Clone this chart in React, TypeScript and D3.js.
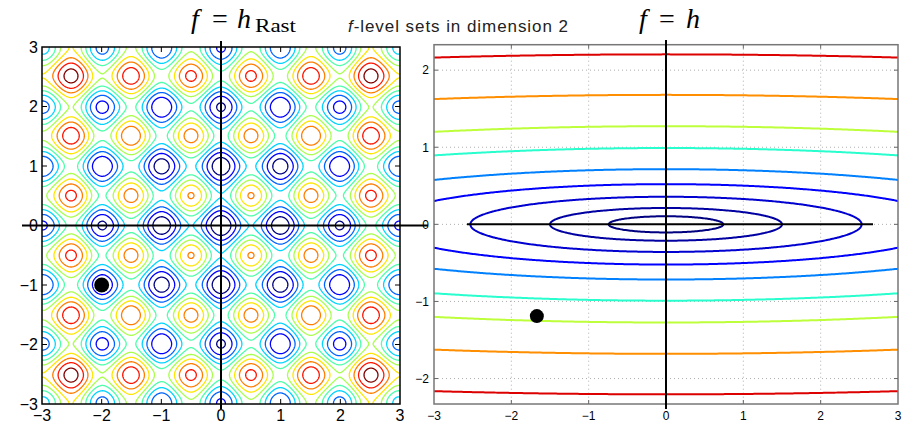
import React, { useMemo } from 'react';
import * as d3 from 'd3';

// ---------- data ----------
const rastLevels = [5, 10, 15, 20, 25, 30, 35, 40, 45, 50];
const rastTicks = [-3, -2, -1, 0, 1, 2, 3];
const rastPoint = [-2, -1];

const ellLevels = [0.55, 2.25, 6.4, 13.6, 25.6, 49, 81, 141, 243];
const ellColorPos = [0, 0.03, 0.07, 0.12, 0.25, 0.4, 0.58, 0.76, 0.92];
const ellXTicks = [-3, -2, -1, 0, 1, 2, 3];
const ellYTicks = [-2, -1, 0, 1, 2];
const ellPoint = [-1.67, -1.19];
const ellCond = 50;

// ---------- colormap (jet) ----------
const jetR = d3.scaleLinear().domain([0, 0.35, 0.66, 0.89, 1]).range([0, 0, 1, 1, 0.5]).clamp(true);
const jetG = d3.scaleLinear().domain([0, 0.125, 0.375, 0.64, 0.91, 1]).range([0, 0, 1, 1, 0, 0]).clamp(true);
const jetB = d3.scaleLinear().domain([0, 0.11, 0.34, 0.65, 1]).range([0.5, 1, 1, 0, 0]).clamp(true);
const jet = (t: number) => d3.rgb(jetR(t) * 255, jetG(t) * 255, jetB(t) * 255).formatHex();

// ---------- scales ----------
const lx = d3.scaleLinear().domain([-3, 3]).range([42, 400]);
const ly = d3.scaleLinear().domain([-3, 3]).range([404, 47]);
const rx = d3.scaleLinear().domain([-3, 3]).range([434, 898]);
const ry = d3.scaleLinear().domain([-2.33, 2.33]).range([404, 44.7]);

const rast = (x: number, y: number) =>
  20 + x * x - 10 * Math.cos(2 * Math.PI * x) + y * y - 10 * Math.cos(2 * Math.PI * y);
const ell = (x: number, y: number) => x * x + ellCond * y * y;

function ringBig(ring: number[][], minExt: number) {
  let x0 = Infinity, x1 = -Infinity, y0 = Infinity, y1 = -Infinity;
  for (const [x, y] of ring) {
    if (x < x0) x0 = x;
    if (x > x1) x1 = x;
    if (y < y0) y0 = y;
    if (y > y1) y1 = y;
  }
  return x1 - x0 >= minExt || y1 - y0 >= minExt;
}

function buildContours(f: any, x0: number, x1: number, y0: number, y1: number, sx: number, sy: number, thresholds: number[], xs: any, ys: any, minExt: number) {
  const nx = Math.round((x1 - x0) / sx) + 1;
  const ny = Math.round((y1 - y0) / sy) + 1;
  const values = new Float64Array(nx * ny);
  for (let j = 0; j < ny; j++) {
    const y = y0 + j * sy;
    for (let i = 0; i < nx; i++) values[j * nx + i] = f(x0 + i * sx, y);
  }
  const gen = d3.contours().size([nx, ny]).thresholds(thresholds);
  const polys = gen(values as any);
  const proj = d3.geoTransform({
    point(px: number, py: number) {
      (this as any).stream.point(xs(x0 + (px - 0.5) * sx), ys(y0 + (py - 0.5) * sy));
    },
  });
  const path = d3.geoPath(proj as any);
  return polys.map((p: any, k: number) => {
    const coords = p.coordinates
      .filter((poly: number[][][]) => ringBig(poly[0], minExt))
      .map((poly: number[][][]) => [poly[0], ...poly.slice(1).filter((r) => ringBig(r, minExt))]);
    return { value: p.value, k, d: path({ type: 'MultiPolygon', coordinates: coords } as any) || '' };
  });
}

const sans = 'Liberation Sans, Arial, Helvetica, sans-serif';
const serif = 'Liberation Serif, DejaVu Serif, serif';
const fmt = (t: number) => (t < 0 ? '\u2212' + Math.abs(t) : String(t));

export default function App() {
  const left = useMemo(
    () => buildContours(rast, -3.3, 3.3, -3.3, 3.3, 0.012, 0.012, rastLevels, lx, ly, 3),
    []
  );
  const right = useMemo(
    () => buildContours(ell, -3.5, 3.5, -2.6, 2.6, 0.02, 0.006, ellLevels, rx, ry, 2),
    []
  );
  const rastColor = d3.scaleLinear().domain([rastLevels[0], rastLevels[rastLevels.length - 1]]).range([0, 1]);

  const innerL = rastTicks.slice(1, -1);
  const innerRX = ellXTicks.slice(1, -1);

  return (
    <svg width={913} height={425} style={{ position: 'absolute', left: 0, top: 0, background: '#fff' }}>
      <defs>
        <clipPath id="clipL">
          <rect x={lx(-3)} y={ly(3)} width={lx(3) - lx(-3)} height={ly(-3) - ly(3)} />
        </clipPath>
        <clipPath id="clipR">
          <rect x={rx(-3)} y={ry(2.33)} width={rx(3) - rx(-3)} height={ry(-2.33) - ry(2.33)} />
        </clipPath>
      </defs>
      <rect x={0} y={0} width={913} height={425} fill="#fff" />

      {/* titles */}
      <text x={191} y={28} fontFamily={serif} fontStyle="italic" fontSize={28}>f</text>
      <text x={220} y={28} fontFamily={serif} fontSize={28} textAnchor="middle">=</text>
      <text x={237} y={28} fontFamily={serif} fontStyle="italic" fontSize={28}>h</text>
      <text x={255} y={32} fontFamily={serif} fontSize={19} textLength={41} lengthAdjust="spacingAndGlyphs">Rast</text>

      <text x={348} y={32} fontFamily={sans} fontSize={17} textLength={220} lengthAdjust="spacing" fill="#222">
        <tspan fontStyle="italic">f</tspan>-level sets in dimension 2
      </text>

      <text x={639} y={28} fontFamily={serif} fontStyle="italic" fontSize={28}>f</text>
      <text x={667} y={28} fontFamily={serif} fontSize={28} textAnchor="middle">=</text>
      <text x={686} y={28} fontFamily={serif} fontStyle="italic" fontSize={28}>h</text>

      {/* ---------- left panel ---------- */}
      <g clipPath="url(#clipL)">
        {left.map((c) => (
          <path key={c.k} d={c.d} fill="none" stroke={jet(rastColor(c.value))} strokeWidth={1.3} />
        ))}
      </g>
      <rect x={lx(-3)} y={ly(3)} width={lx(3) - lx(-3)} height={ly(-3) - ly(3)} fill="none" stroke="#000" strokeWidth={1.5} />
      {innerL.map((t) => (
        <g key={'lt' + t} stroke="#000" strokeWidth={1}>
          <line x1={lx(t)} x2={lx(t)} y1={ly(3)} y2={ly(3) + 5} />
          <line x1={lx(t)} x2={lx(t)} y1={ly(-3)} y2={ly(-3) - 5} />
          <line x1={lx(-3)} x2={lx(-3) + 5} y1={ly(t)} y2={ly(t)} />
          <line x1={lx(3)} x2={lx(3) - 5} y1={ly(t)} y2={ly(t)} />
        </g>
      ))}
      <line x1={lx(0)} x2={lx(0)} y1={41} y2={409} stroke="#000" strokeWidth={2} />
      <line x1={22} x2={428} y1={ly(0)} y2={ly(0)} stroke="#000" strokeWidth={2} />
      <circle cx={lx(rastPoint[0])} cy={ly(rastPoint[1])} r={7.5} fill="#000" />
      {rastTicks.map((t) => (
        <text key={'lyl' + t} x={38} y={ly(t)} dy="0.36em" textAnchor="end" fontFamily={sans} fontSize={16} fill="#000">
          {fmt(t)}
        </text>
      ))}
      {rastTicks.map((t) => (
        <text key={'lxl' + t} x={lx(t)} y={421} textAnchor="middle" fontFamily={sans} fontSize={16} fill="#000">
          {fmt(t)}
        </text>
      ))}

      {/* ---------- right panel ---------- */}
      <g stroke="#999" strokeWidth={0.8} strokeDasharray="1,3">
        {innerRX.map((t) => (
          <line key={'gx' + t} x1={rx(t)} x2={rx(t)} y1={ry(2.33)} y2={ry(-2.33)} />
        ))}
        {ellYTicks.map((t) => (
          <line key={'gy' + t} x1={rx(-3)} x2={rx(3)} y1={ry(t)} y2={ry(t)} />
        ))}
      </g>
      <g clipPath="url(#clipR)">
        {right.map((c) => (
          <path key={c.k} d={c.d} fill="none" stroke={jet(ellColorPos[c.k])} strokeWidth={2} />
        ))}
      </g>
      <rect x={rx(-3)} y={ry(2.33)} width={rx(3) - rx(-3)} height={ry(-2.33) - ry(2.33)} fill="none" stroke="#777" strokeWidth={1.5} />
      {innerRX.map((t) => (
        <g key={'rt' + t} stroke="#666" strokeWidth={1}>
          <line x1={rx(t)} x2={rx(t)} y1={ry(2.33)} y2={ry(2.33) + 4} />
          <line x1={rx(t)} x2={rx(t)} y1={ry(-2.33)} y2={ry(-2.33) - 4} />
        </g>
      ))}
      {ellYTicks.map((t) => (
        <g key={'rty' + t} stroke="#666" strokeWidth={1}>
          <line x1={rx(-3)} x2={rx(-3) + 4} y1={ry(t)} y2={ry(t)} />
          <line x1={rx(3)} x2={rx(3) - 4} y1={ry(t)} y2={ry(t)} />
        </g>
      ))}
      <line x1={rx(0)} x2={rx(0)} y1={40} y2={409} stroke="#000" strokeWidth={2} />
      <line x1={467} x2={873} y1={ry(0)} y2={ry(0)} stroke="#000" strokeWidth={2} />
      <circle cx={rx(ellPoint[0])} cy={ry(ellPoint[1])} r={7} fill="#000" />
      {ellYTicks.map((t) => (
        <text key={'ryl' + t} x={429} y={ry(t)} dy="0.36em" textAnchor="end" fontFamily={sans} fontSize={12} fill="#000">
          {fmt(t)}
        </text>
      ))}
      {ellXTicks.map((t) => (
        <text key={'rxl' + t} x={rx(t)} y={420} textAnchor="middle" fontFamily={sans} fontSize={12} fill="#000">
          {fmt(t)}
        </text>
      ))}
    </svg>
  );
}
